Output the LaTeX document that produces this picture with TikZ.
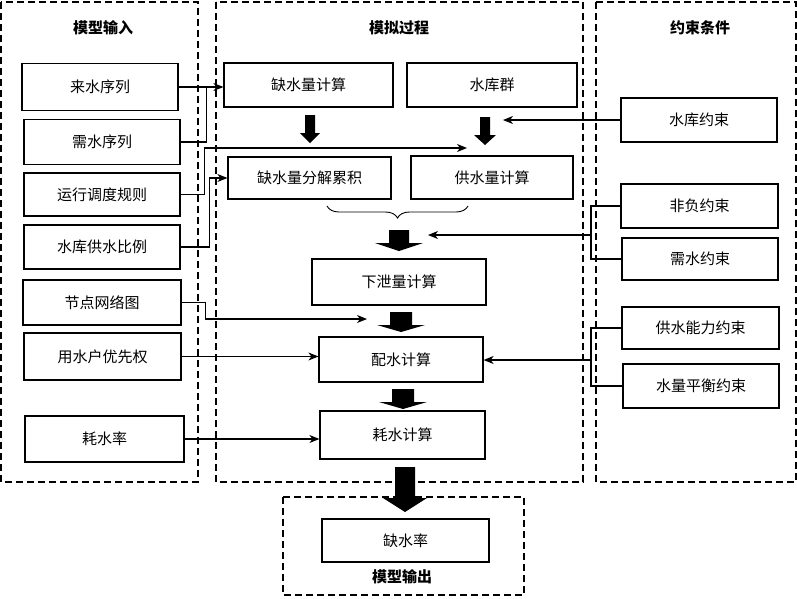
\documentclass[tikz,border=0pt]{standalone}
\usepackage{fontspec}
\setmainfont{Noto Sans CJK SC}
\usetikzlibrary{arrows.meta,decorations.pathreplacing,calc}

\begin{document}
\begin{tikzpicture}[x=1pt,y=-1pt,
    box/.style={draw,line width=1.2pt,minimum width=156pt,minimum height=44pt,inner sep=0pt,font=\fontsize{15}{18}\selectfont},
    panel/.style={draw,line width=1.3pt,dash pattern=on 7pt off 4pt},
    title/.style={font=\fontsize{15}{18}\selectfont\bfseries},
    link/.style={line width=1.1pt},
    arr/.style={line width=1.1pt,-{Stealth[length=10pt,width=8pt,inset=3pt]}}]
\useasboundingbox (0,0) rectangle (797,598);

% panels
\draw[panel] (1,2) rectangle (198,482);
\draw[panel] (216,2) rectangle (583,482);
\draw[panel] (596,2) rectangle (796,482);
\draw[panel] (283,497) rectangle (524,595);
\node[title] (tin) at (103,28) {模型输入};
\node[title] (tsim) at (399,28) {模拟过程};
\node[title] (tcon) at (700,28) {约束条件};
\node[title] (tout) at (402,577) {模型输出};

% model input
\node[box,minimum height=47pt] (lai) at (100,87) {来水序列};
\node[box,minimum height=45pt] (xu) at (102,142) {需水序列};
\node[box,minimum height=43pt] (yx) at (102,194.5) {运行调度规则};
\node[box] (bl) at (102,247) {水库供水比例};
\node[box,minimum width=158pt,minimum height=45pt] (jd) at (102,302.5) {节点网络图};
\node[box,minimum width=157pt,minimum height=47pt] (yh) at (102.5,356.5) {用水户优先权};
\node[box,minimum width=159pt,minimum height=46pt] (hsl) at (104.5,439) {耗水率};

% simulation
\node[box,minimum width=169pt] (qs) at (308.5,85) {缺水量计算};
\node[box,minimum width=170pt] (sk) at (492,85) {水库群};
\node[box,minimum width=163pt,minimum height=42pt] (fj) at (309.5,178) {缺水量分解累积};
\node[box,minimum width=162pt,minimum height=43pt] (gs) at (492,177.5) {供水量计算};
\node[box,minimum width=174pt,minimum height=46pt] (xx) at (399,282) {下泄量计算};
\node[box,minimum width=164pt,minimum height=45pt] (ps) at (401,359.5) {配水计算};
\node[box,minimum width=165pt,minimum height=48pt] (hs) at (402.5,435) {耗水计算};
\node[box,minimum width=167pt,minimum height=43pt] (qsl) at (405.5,540.5) {缺水率};

% constraints
\node[box] (skys) at (699,120) {水库约束};
\node[box,minimum width=157pt] (ff) at (699.5,206) {非负约束};
\node[box,minimum height=42pt] (xs) at (700,259) {需水约束};
\node[box,minimum width=157pt,minimum height=42pt] (gn) at (700.5,328) {供水能力约束};
\node[box] (ph) at (701,386) {水量平衡约束};

\coordinate (gsin) at (467,148);
\coordinate (psup) at (367,319);
\coordinate (skin) at (503,120);
\coordinate (xxr) at (428,235);
\coordinate (k1) at (591,235);
\coordinate (k2) at (591,360);

% inputs to process
\draw[arr] (lai.east) -- (lai.east -| qs.west);
\draw[link] (xu.east) -| ($(lai.east)+(28,0)$);
\draw[arr] (yx.east) -- ++(24,0) |- (gsin);
\draw[arr] (bl.east) -- ++(29,0) |- (fj.west);
\draw[arr] (jd.east) -- ++(24,0) |- (psup);
\draw[arr] (yh.east) -- (yh.east -| ps.west);
\draw[arr] (hsl.east) -- (hsl.east -| hs.west);

% constraints to process
\draw[arr] (skys.west) -- (skin);
\draw[link] (ff.west) -| (k1) |- (xs.west);
\draw[arr] (k1) -- (xxr);
\draw[link] (gn.west) -| (k2) |- (ph.west);
\draw[arr] (k2) -- (k2 -| ps.east);

% brace
\draw[line width=0.9pt,decorate,decoration={brace,amplitude=12pt}] (468,206) -- (327,206);

% block arrows
\fill (305,115) -- (315,115) -- (315,133) -- (320,133) -- (310,143) -- (300,133) -- (305,133) -- cycle;
\fill (480,117) -- (490,117) -- (490,135) -- (496,135) -- (485,145) -- (474,135) -- (480,135) -- cycle;
\fill (389,230) -- (409,230) -- (409,243) -- (423,243) -- (399,251) -- (375,243) -- (389,243) -- cycle;
\fill (390,312) -- (412,312) -- (412,325) -- (425,325) -- (401,332) -- (377,325) -- (390,325) -- cycle;
\fill (392,389) -- (414,389) -- (414,402) -- (427,402) -- (403,409) -- (379,402) -- (392,402) -- cycle;
\fill (395,467) -- (415,467) -- (415,498) -- (427,498) -- (405,512) -- (383,498) -- (395,498) -- cycle;
\end{tikzpicture}
\end{document}
